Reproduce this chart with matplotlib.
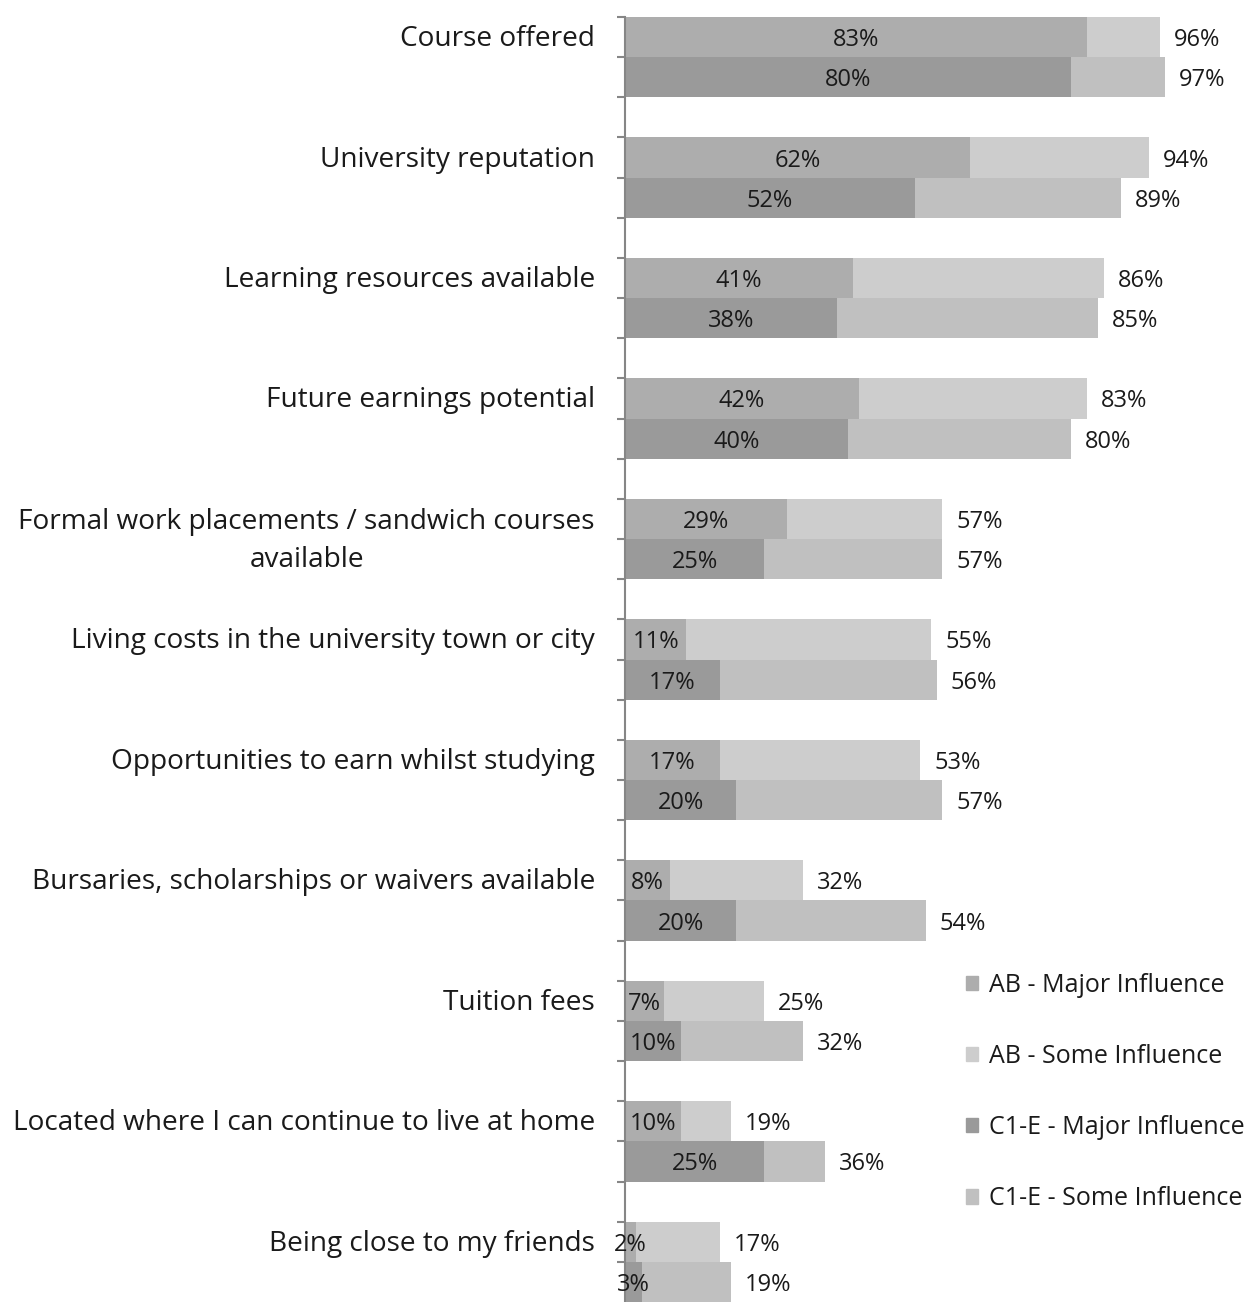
import matplotlib
matplotlib.use("Agg")
import matplotlib.pyplot as plt
from matplotlib.patches import Patch
from matplotlib.transforms import blended_transform_factory

categories = [
    "Course offered",
    "University reputation",
    "Learning resources available",
    "Future earnings potential",
    "Formal work placements / sandwich courses\navailable",
    "Living costs in the university town or city",
    "Opportunities to earn whilst studying",
    "Bursaries, scholarships or waivers available",
    "Tuition fees",
    "Located where I can continue to live at home",
    "Being close to my friends",
]
ab_major = [83, 62, 41, 42, 29, 11, 17, 8, 7, 10, 2]
ab_total = [96, 94, 86, 83, 57, 55, 53, 32, 25, 19, 17]
c1e_major = [80, 52, 38, 40, 25, 17, 20, 20, 10, 25, 3]
c1e_total = [97, 89, 85, 80, 57, 56, 57, 54, 32, 36, 19]
series_names = ["AB - Major Influence", "AB - Some Influence",
                "C1-E - Major Influence", "C1-E - Some Influence"]
colors = ["#adadad", "#cdcdcd", "#9a9a9a", "#c0c0c0"]

plt.rcParams["font.family"] = ["Open Sans", "DejaVu Sans"]
text_color = "#1a1a1a"

fig = plt.figure(figsize=(12.56, 13.02), dpi=100)
ax = fig.add_axes([625 / 1256, 0, 631 / 1256, 1285 / 1302])

n = len(categories)
ab_pos = [3 * i for i in range(n)]
c1_pos = [3 * i + 1 for i in range(n)]
ab_some = [t - m for t, m in zip(ab_total, ab_major)]
c1_some = [t - m for t, m in zip(c1e_total, c1e_major)]

ax.barh(ab_pos, ab_major, height=1, color=colors[0])
ax.barh(ab_pos, ab_some, left=ab_major, height=1, color=colors[1])
ax.barh(c1_pos, c1e_major, height=1, color=colors[2])
ax.barh(c1_pos, c1_some, left=c1e_major, height=1, color=colors[3])

fs = 17
for pos, major, total in zip(ab_pos + c1_pos, ab_major + c1e_major, ab_total + c1e_total):
    ax.text(major / 2, pos, f"{major}%", ha="center", va="center_baseline",
            fontsize=fs, color=text_color)
    ax.annotate(f"{total}%", (total, pos), xytext=(10, 0), textcoords="offset points",
                ha="left", va="center_baseline", fontsize=fs, color=text_color)

trans = blended_transform_factory(ax.transAxes, ax.transData)
for pos, label in zip(ab_pos, categories):
    nlines = label.count("\n") + 1
    ax.text(-30 / 631, pos + 0.5 * (nlines - 1) + 0.05, label, transform=trans,
            ha="right", va="center", multialignment="center",
            fontsize=20.2, color=text_color, linespacing=1.45)

ax.set_xlim(0, 113.3)
ax.set_ylim(3 * n - 1.5, -0.5)
ax.set_yticks([k - 0.5 for k in range(3 * n - 1)])
ax.set_yticklabels([])
ax.set_xticks([])
for side in ["top", "right", "bottom"]:
    ax.spines[side].set_visible(False)
ax.spines["left"].set_color("#868686")
ax.spines["left"].set_linewidth(1.5)
ax.tick_params(axis="y", length=6, width=1.5, color="#868686", direction="out")

handles = [Patch(color=c) for c in colors]
fig.legend(handles, series_names, loc="upper left", bbox_to_anchor=(943 / 1256, 1 - 950 / 1302),
           frameon=False, fontsize=18.0, handlelength=0.5, handleheight=0.5,
           handletextpad=0.45, labelspacing=1.85, labelcolor=text_color)

fig.savefig("out.png", dpi=100)
